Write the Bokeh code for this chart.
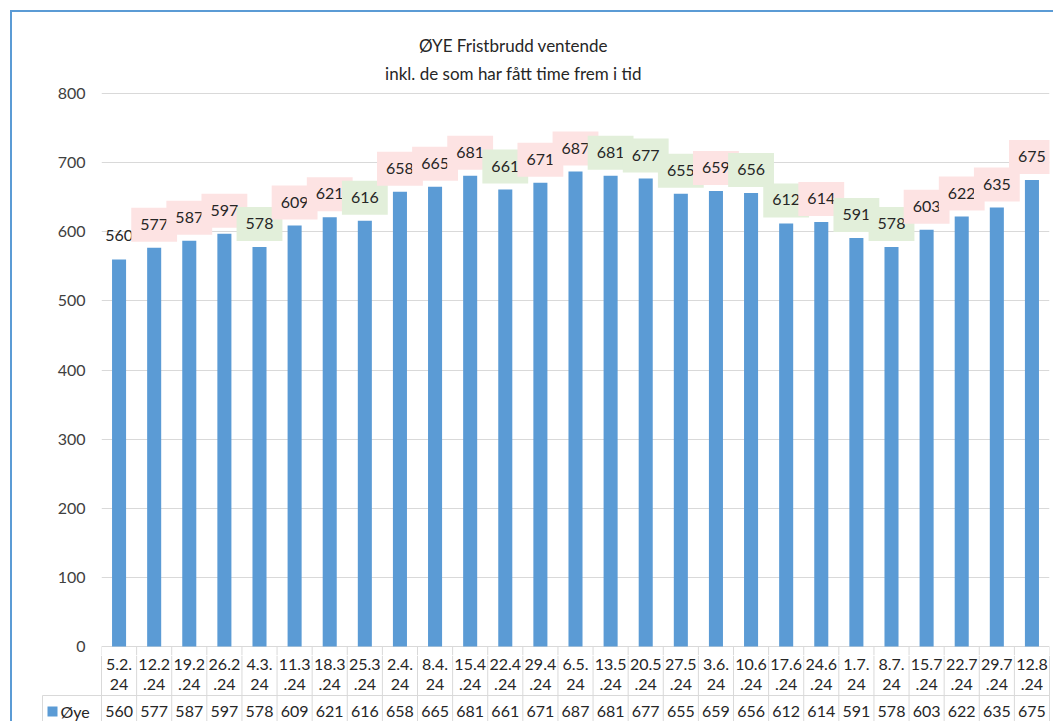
from bokeh.plotting import figure
from bokeh.models import Range1d, FactorRange, ColumnDataSource, FixedTicker, Div, Spacer
from bokeh.layouts import column, row
from bokeh.core.properties import value
from bokeh.embed import file_html
from bokeh.resources import INLINE

# ---------------- data ----------------
dates = ["5.2.24", "12.2.24", "19.2.24", "26.2.24", "4.3.24", "11.3.24", "18.3.24",
         "25.3.24", "2.4.24", "8.4.24", "15.4.24", "22.4.24", "29.4.24", "6.5.24",
         "13.5.24", "20.5.24", "27.5.24", "3.6.24", "10.6.24", "17.6.24", "24.6.24",
         "1.7.24", "8.7.24", "15.7.24", "22.7.24", "29.7.24", "12.8.24"]
values = [560, 577, 587, 597, 578, 609, 621, 616, 658, 665, 681, 661, 671, 687,
          681, 677, 655, 659, 656, 612, 614, 591, 578, 603, 622, 635, 675]
y_ticks = [0, 100, 200, 300, 400, 500, 600, 700, 800]
series_name = "Øye"
title_lines = ["ØYE Fristbrudd ventende", "inkl. de som har fått time frem i tid"]

# ---------------- styles ----------------
FONT = value("Lato")
BAR = "#5B9BD5"
FRAME_BLUE = "#5B9BD5"
GRID = "#D9D9D9"
TXT = "#404040"
UP_BG = "#FDE3E3"
DOWN_BG = "#E2EFDA"

# layout constants (page pixels; the page has no body margin)
PAD = 10                        # white space before the blue frame
LINE = 2                        # blue frame line width
ORG_X = ORG_Y = PAD + LINE      # top-left of the chart figure on the page
PAGE_W, PAGE_H = 1053, 721
FIG_W = PAGE_W - ORG_X
PLOT_L, PLOT_R = 101, 1049      # plot area (frame) edges
ZERO_Y, TOP_Y = 646, 93         # page y of value 0 and 800
EXTRA_BOTTOM = 9                # frame extends below 0 so the "0" label fits
FIG1_H = ZERO_Y + EXTRA_BOTTOM - ORG_Y
FIG2_H = PAGE_H - ZERO_Y - EXTRA_BOTTOM
FRAME_L = PLOT_L - ORG_X
FRAME_R = ORG_X + FIG_W - PLOT_R
N = len(dates)
COL_PX = (PLOT_R - PLOT_L) / N
Y_PX = (ZERO_Y - TOP_Y) / 800.0

# label background: up = red-ish, down = green-ish, first none
bgs = ["#FFFFFF00"]
for i in range(1, N):
    bgs.append(UP_BG if values[i] > values[i - 1] else DOWN_BG)

src = ColumnDataSource(dict(date=dates, value=values,
                            label=[str(v) for v in values], bg=bgs))


def no_align(fig):
    try:
        fig.frame_align = False
    except Exception:
        pass


# ---------------- chart ----------------
p = figure(width=FIG_W, height=FIG1_H, output_backend="svg", toolbar_location=None,
           x_range=FactorRange(factors=dates, range_padding=0),
           y_range=Range1d(-EXTRA_BOTTOM / Y_PX, (ZERO_Y - ORG_Y) / Y_PX),
           x_axis_location=None,
           min_border_left=FRAME_L, min_border_right=FRAME_R,
           min_border_top=0, min_border_bottom=0)
no_align(p)
p.outline_line_color = None
p.background_fill_color = "white"
p.border_fill_color = "white"
p.xgrid.grid_line_color = None
p.ygrid.ticker = FixedTicker(ticks=y_ticks)
p.ygrid.grid_line_color = GRID
p.ygrid.grid_line_width = 1
p.yaxis.ticker = FixedTicker(ticks=y_ticks)
p.yaxis.axis_line_color = None
p.yaxis.major_tick_line_color = None
p.yaxis.minor_tick_line_color = None
p.yaxis.major_tick_out = 0
p.yaxis.major_label_standoff = 16
p.yaxis.major_label_text_font = "Lato"
p.yaxis.major_label_text_font_size = "16px"
p.yaxis.major_label_text_color = TXT

p.vbar(x="date", top="value", width=0.4, source=src, fill_color=BAR, line_color=None)

p.text(x="date", y="value", text="label", source=src, y_offset=-23,
       text_align="center", text_baseline="middle", text_font=FONT,
       text_font_size="16px", text_color="#262626",
       background_fill_color="bg",
       padding=dict(left=9, right=9, top=11, bottom=12))

# top part of the data table (inside the frame, below 0)
p.segment(x0=list(range(N + 1)), y0=[0] * (N + 1), x1=list(range(N + 1)),
          y1=[-EXTRA_BOTTOM / Y_PX] * (N + 1), line_color=GRID, line_width=1)

# title (centered at page x ~513, y ~45 / ~73)
title_x = (513 - PLOT_L) / COL_PX
title_src = ColumnDataSource(dict(
    x=[title_x, title_x],
    y=[(ZERO_Y - 45) / Y_PX, (ZERO_Y - 73) / Y_PX],
    t=title_lines))
p.text(x="x", y="y", text="t", source=title_src, text_align="center",
       text_baseline="middle", text_font=FONT, text_font_size="17px",
       text_color="#262626")

# ---------------- data table (rest) ----------------
T_TOP = ZERO_Y + EXTRA_BOTTOM       # page y of this figure's top
x0 = -(PLOT_L - ORG_X) / COL_PX
x1 = N + (ORG_X + FIG_W - PLOT_R) / COL_PX
t = figure(width=FIG_W, height=FIG2_H, output_backend="svg", toolbar_location=None,
           x_range=Range1d(x0, x1), y_range=Range1d(FIG2_H, 0),
           x_axis_location=None, y_axis_location=None,
           min_border_left=0, min_border_right=0, min_border_top=0, min_border_bottom=0)
no_align(t)
t.outline_line_color = None
t.grid.grid_line_color = None
t.background_fill_color = "white"
t.border_fill_color = "white"


def tx(page_x):
    return (page_x - PLOT_L) / COL_PX


def ty(page_y):
    return page_y - T_TOP


leg_x = tx(42)
row_split = ty(695)
centers = [i + 0.5 for i in range(N)]

t.segment(x0=[leg_x], y0=[row_split], x1=[N], y1=[row_split],
          line_color=GRID, line_width=1)
t.segment(x0=list(range(N + 1)), y0=[0] * (N + 1), x1=list(range(N + 1)),
          y1=[FIG2_H] * (N + 1), line_color=GRID, line_width=1)
t.segment(x0=[leg_x], y0=[row_split], x1=[leg_x], y1=[FIG2_H],
          line_color=GRID, line_width=1)

line1 = [d[:4] for d in dates]
line2 = [d[4:] for d in dates]
tsrc = ColumnDataSource(dict(x=centers, l1=line1, l2=line2,
                             v=[str(v) for v in values]))
common = dict(text_align="center", text_baseline="middle", text_font=FONT,
              text_font_size="16px", text_color="#262626")
t.text(x="x", y=ty(664), text="l1", source=tsrc, **common)
t.text(x="x", y=ty(684), text="l2", source=tsrc, **common)
t.text(x="x", y=ty(711), text="v", source=tsrc, **common)

t.scatter(x=[tx(52)], y=[ty(711)], marker="square", size=10,
          fill_color=BAR, line_color=None)
t.text(x=[tx(60)], y=[ty(711)], text=[series_name],
       text_align="left", text_baseline="middle", text_font=FONT,
       text_font_size="16px", text_color="#262626")

# ---------------- outer frame ----------------
top_line = Div(text="", width=PAGE_W - PAD, height=LINE, margin=0,
               styles={"background-color": FRAME_BLUE})
left_line = Div(text="", width=LINE, height=FIG1_H + FIG2_H, margin=0,
                styles={"background-color": FRAME_BLUE})

layout = column(
    Spacer(width=PAGE_W, height=PAD),
    row(Spacer(width=PAD, height=LINE), top_line),
    row(Spacer(width=PAD, height=FIG1_H + FIG2_H), left_line, column(p, t)),
)

open("out.html", "w").write(file_html(layout, INLINE))
